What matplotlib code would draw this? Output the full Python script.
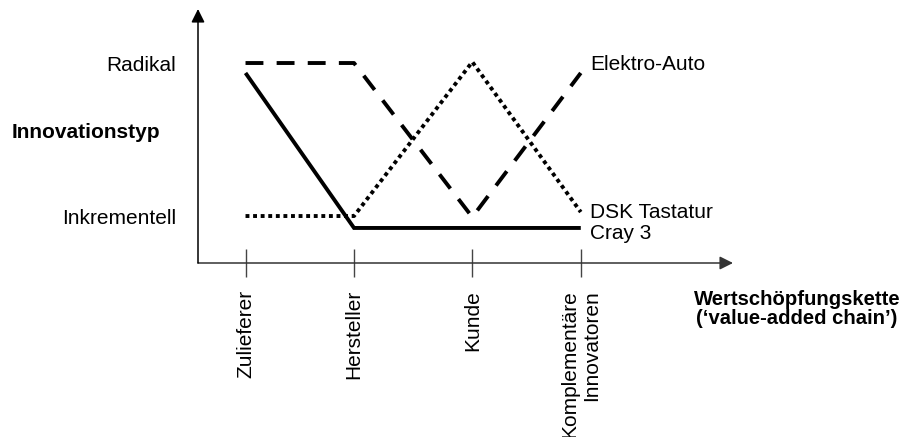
import matplotlib
matplotlib.use('Agg')
import matplotlib.pyplot as plt

# ---- data ----
stages = ['Zulieferer', 'Hersteller', 'Kunde', 'Komplementäre\nInnovatoren']
stage_pos = [0.0, 1.0, 2.09, 3.09]
levels = ['Inkrementell', 'Radikal']
level_vals = [0, 1]
cray3 = [0.935, -0.078, -0.078, -0.078]
elektro_auto = [1.0, 1.0, -0.007, 0.935]
dsk_tastatur = [0.0, 0.0, 1.007, 0.026]
series_names = ['Cray 3', 'Elektro-Auto', 'DSK Tastatur']

plt.rcParams['font.family'] = ['Liberation Sans', 'DejaVu Sans']
FS = 15

fig = plt.figure(figsize=(9.04, 4.37), dpi=100)
ax = fig.add_axes([198/904, (437-263)/437, 535/904, 254/437])
ax.set_xlim(-0.438, 4.493)
ax.set_ylim(-0.307, 1.353)
for s in ax.spines.values():
    s.set_visible(False)
ax.patch.set_alpha(0)

# axes with arrows
ax.annotate('', xy=(1, 0), xytext=(0, 0), xycoords='axes fraction',
            arrowprops=dict(arrowstyle='-|>', mutation_scale=20, lw=1.1,
                            color='#333333', shrinkA=0, shrinkB=0))
ax.annotate('', xy=(0, 1), xytext=(0, 0), xycoords='axes fraction',
            arrowprops=dict(arrowstyle='-|>', mutation_scale=20, lw=1.1,
                            color='black', shrinkA=0, shrinkB=0))

lw = 2.8
ax.plot(stage_pos, cray3, color='black', lw=lw, solid_capstyle='butt',
        solid_joinstyle='miter')
ax.plot(stage_pos, elektro_auto, color='black', lw=lw,
        linestyle=(0, (4.6, 3.4)), dash_capstyle='butt')
ax.plot(stage_pos, dsk_tastatur, color='black', lw=lw,
        linestyle=(0, (1.0, 0.95)), dash_capstyle='butt')

# series labels
ax.annotate(series_names[1], xy=(stage_pos[-1], elektro_auto[-1]),
            xytext=(6.7, 6), textcoords='offset points', fontsize=FS,
            ha='left', va='center')
ax.annotate(series_names[2], xy=(stage_pos[-1], dsk_tastatur[-1]),
            xytext=(6.7, 0), textcoords='offset points', fontsize=FS,
            ha='left', va='center')
ax.annotate(series_names[0], xy=(stage_pos[-1], cray3[-1]),
            xytext=(6.7, -4), textcoords='offset points', fontsize=FS,
            ha='left', va='center')

# ticks
ax.set_xticks(stage_pos)
ax.set_xticklabels(stages, rotation=90, fontsize=FS, multialignment='right')
ax.tick_params(axis='x', direction='inout', length=20, width=1,
               color='#444444', pad=9.4)
ax.set_yticks(level_vals)
ax.set_yticklabels(levels, fontsize=FS)
ax.tick_params(axis='y', length=0, pad=16)

fig.text(12/904, 1 - 133/437, 'Innovationstyp', fontsize=FS,
         fontweight='bold', ha='left', va='center')
fig.text(797/904, 1 - 309/437, 'Wertschöpfungskette\n(\u2018value-added chain\u2019)',
         fontsize=14.6, fontweight='bold', ha='center', va='center',
         linespacing=1.0)

fig.savefig('out.png', dpi=100)
